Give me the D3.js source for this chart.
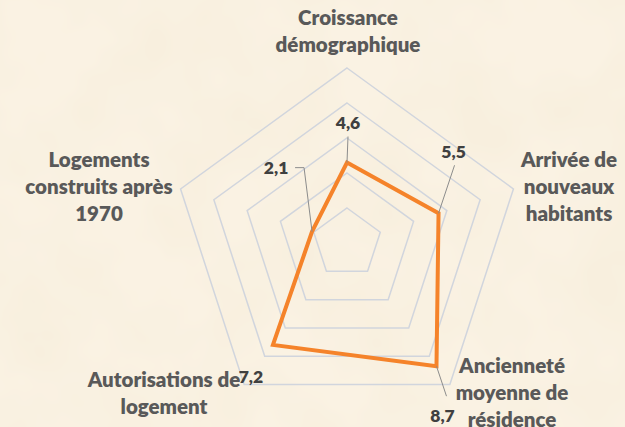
<!DOCTYPE html>
<html>
<head>
<meta charset="utf-8">
<script src="https://cdn.jsdelivr.net/npm/d3@7"></script>
<style>
  html, body { margin: 0; padding: 0; background: #faf2e3; }
  svg { display: block; }
  .cat { font-family: Lato, "DejaVu Sans", sans-serif; font-weight: 800; font-size: 20.5px; fill: #595959; }
  .val { font-family: Lato, "DejaVu Sans", sans-serif; font-weight: 800; font-size: 17.5px; fill: #404040; }
</style>
</head>
<body>
<div id="chart"></div>
<script>
// data
var categories = [
  ['Croissance', 'démographique'],
  ['Arrivée de', 'nouveaux', 'habitants'],
  ['Ancienneté', 'moyenne de', 'résidence'],
  ['Autorisations de', 'logement'],
  ['Logements', 'construits après', '1970']
]
var values = [4.6, 5.5, 8.7, 7.2, 2.1]
var gridLevels = [2, 4, 6, 8, 10]

var width = 625, height = 427
var cx = 347, cy = 243

// label placement (relative to axis end / data point)
var catPos = [
  {x: 348, y: 25},
  {x: 569, y: 167},
  {x: 512, y: 373},
  {x: 164, y: 387},
  {x: 99, y: 167}
]
var lineH = 27
var valOffset = [
  {dx: 1, dy: -34, leader: [[1, -26], [0, 0]]},
  {dx: 15, dy: -55, leader: [[16, -48], [0, 0]]},
  {dx: 6, dy: 56, leader: [[0, 0], [10, 30]]},
  {dx: -22, dy: 38, leader: null},
  {dx: -36, dy: -58, leader: [[-17, -64], [-8, -64], [0, 0]]}
]

var fmt = d3.formatLocale({decimal: ',', thousands: ' ', grouping: [3], currency: ['', '€']}).format('.1f')

var rScale = d3.scaleLinear()
  .domain([0, 10])
  .range([0, 175])

var angle = d3.scalePoint()
  .domain(d3.range(categories.length))
  .range([0, 2 * Math.PI * (categories.length - 1) / categories.length])

function pt(i, v) {
  var a = angle(i)
  return [cx + rScale(v) * Math.sin(a), cy - rScale(v) * Math.cos(a)]
}

var svg = d3.select('#chart')
  .append('svg')
  .attr('width', width)
  .attr('height', height)

// parchment texture
var defs = svg.append('defs')
var filt = defs.append('filter')
  .attr('id', 'paper')
  .attr('x', 0).attr('y', 0).attr('width', '100%').attr('height', '100%')
filt.append('feTurbulence')
  .attr('type', 'fractalNoise')
  .attr('baseFrequency', 0.012)
  .attr('numOctaves', 3)
  .attr('seed', 4)
filt.append('feColorMatrix')
  .attr('type', 'matrix')
  .attr('values', '0 0 0 0 0.80  0 0 0 0 0.68  0 0 0 0 0.45  0 0 0 0.22 -0.07')

svg.append('rect')
  .attr('width', width)
  .attr('height', height)
  .attr('fill', '#faf2e3')
svg.append('rect')
  .attr('width', width)
  .attr('height', height)
  .attr('filter', 'url(#paper)')

// grid
var gridG = svg.append('g').attr('class', 'grid')
gridG.selectAll('polygon')
  .data(gridLevels)
  .enter()
  .append('polygon')
  .attr('points', l => categories.map((c, i) => pt(i, l).join(',')).join(' '))
  .attr('fill', 'none')
  .attr('stroke', '#d1d5dd')
  .attr('stroke-width', 1.5)

// series
var line = d3.line()
  .x((d, i) => pt(i, d)[0])
  .y((d, i) => pt(i, d)[1])
  .curve(d3.curveLinearClosed)

svg.append('path')
  .datum(values)
  .attr('d', line)
  .attr('fill', 'none')
  .attr('stroke', '#f5832a')
  .attr('stroke-width', 4)
  .attr('stroke-linejoin', 'miter')

// leader lines
values.forEach(function(v, i) {
  var o = valOffset[i]
  if (!o.leader) return
  var p = pt(i, v)
  svg.append('polyline')
    .attr('points', o.leader.map(l => (p[0] + l[0]) + ',' + (p[1] + l[1])).join(' '))
    .attr('fill', 'none')
    .attr('stroke', '#8c8c8c')
    .attr('stroke-width', 1)
})

// value labels
svg.selectAll('.val')
  .data(values)
  .enter()
  .append('text')
  .attr('class', 'val')
  .attr('text-anchor', 'middle')
  .attr('x', (d, i) => pt(i, d)[0] + valOffset[i].dx)
  .attr('y', (d, i) => pt(i, d)[1] + valOffset[i].dy)
  .text(d => fmt(d))

// category labels
categories.forEach(function(c, i) {
  var t = svg.append('text')
    .attr('class', 'cat')
    .attr('text-anchor', 'middle')
    .attr('x', catPos[i].x)
    .attr('y', catPos[i].y)
  c.forEach(function(s, j) {
    t.append('tspan')
      .attr('x', catPos[i].x)
      .attr('dy', j ? lineH : 0)
      .text(s)
  })
})
</script>
</body>
</html>
